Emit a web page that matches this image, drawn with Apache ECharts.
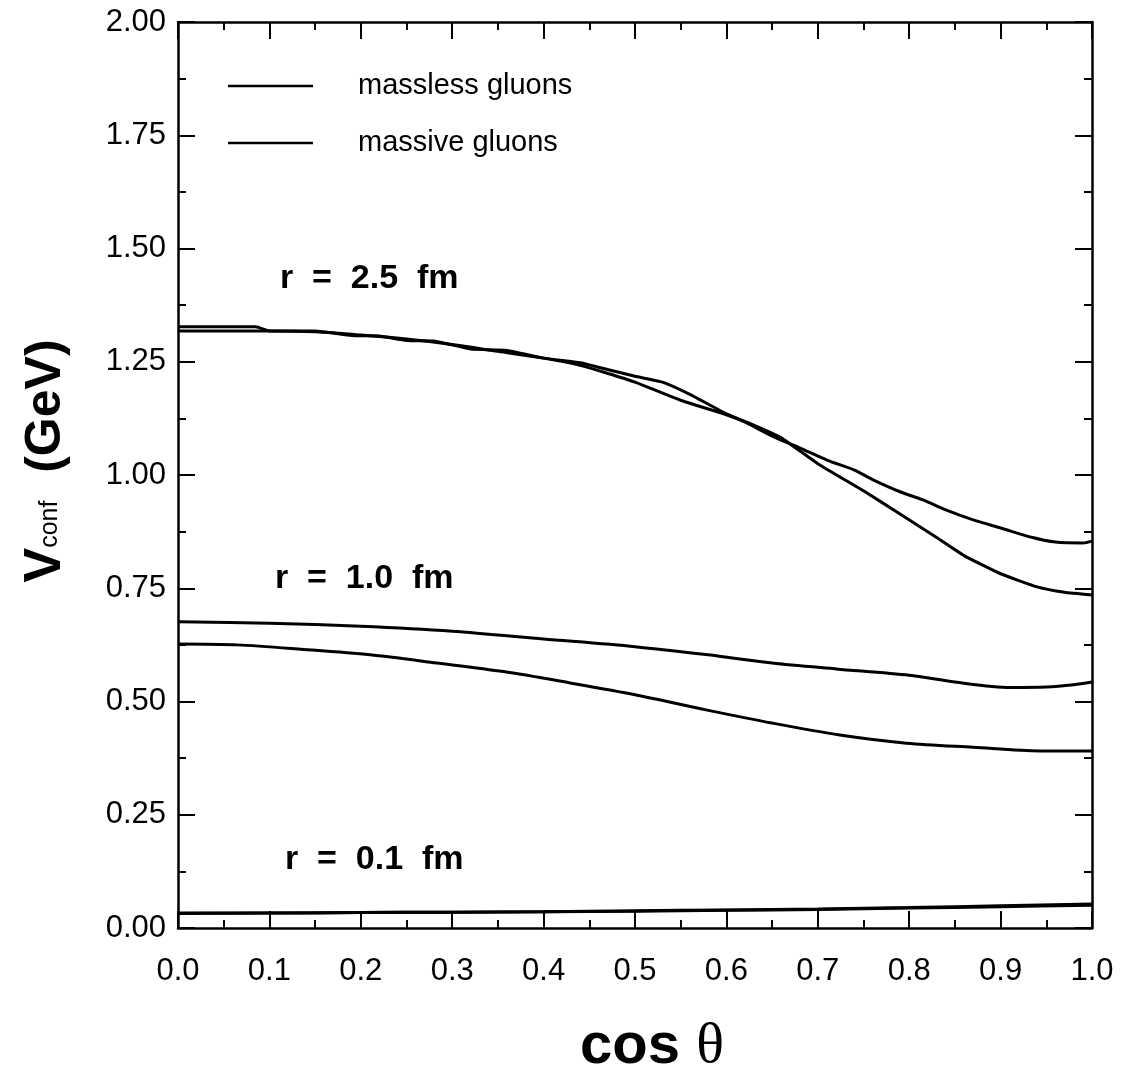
<!DOCTYPE html>
<html>
<head>
<meta charset="utf-8">
<script src="https://cdn.jsdelivr.net/npm/echarts@6/dist/echarts.min.js"></script>
<style>html,body{margin:0;padding:0;background:#fff}#c{width:1123px;height:1074px}</style>
</head>
<body>
<div id="c"></div>
<script>
// ---- data ----
const xTicks = [0,0.1,0.2,0.3,0.4,0.5,0.6,0.7,0.8,0.9,1.0];
const yTicks = [0,0.25,0.5,0.75,1.0,1.25,1.5,1.75,2.0];

const r25MasslessX = [0.00,0.085,0.10,0.15,0.19,0.22,0.25,0.28,0.32,0.36,0.40,0.44,0.46,0.50,0.53,0.56,0.60,0.63,0.66,0.70,0.75,0.79,0.83,0.86,0.90,0.94,0.97,1.00];
const r25MasslessY = [1.327,1.327,1.318,1.318,1.308,1.307,1.297,1.296,1.278,1.275,1.258,1.248,1.238,1.218,1.205,1.178,1.135,1.110,1.082,1.025,0.965,0.914,0.862,0.822,0.782,0.753,0.741,0.735];

const r25MassiveX = [0.00,0.10,0.15,0.20,0.25,0.30,0.35,0.40,0.44,0.48,0.50,0.55,0.60,0.62,0.65,0.68,0.71,0.74,0.76,0.79,0.815,0.84,0.87,0.90,0.935,0.96,0.99,1.00];
const r25MassiveY = [1.318,1.318,1.316,1.309,1.300,1.288,1.273,1.258,1.242,1.218,1.205,1.165,1.133,1.117,1.086,1.060,1.033,1.011,0.990,0.963,0.945,0.923,0.901,0.883,0.862,0.852,0.850,0.854];

const r10MasslessX = [0,0.1,0.2,0.3,0.4,0.5,0.58,0.65,0.72,0.80,0.85,0.91,0.95,0.98,1.0];
const r10MasslessY = [0.676,0.673,0.666,0.655,0.638,0.621,0.603,0.585,0.572,0.558,0.543,0.531,0.532,0.537,0.543];

const r10MassiveX = [0,0.065,0.137,0.21,0.283,0.356,0.429,0.50,0.579,0.651,0.724,0.797,0.87,0.943,1.0];
const r10MassiveY = [0.627,0.625,0.615,0.603,0.585,0.566,0.541,0.515,0.481,0.452,0.426,0.408,0.399,0.391,0.391];

const r01X = [0,0.1,0.2,0.3,0.4,0.5,0.6,0.7,0.8,0.9,1.0];
const r01MasslessY = [0.033,0.033,0.034,0.035,0.036,0.037,0.039,0.041,0.044,0.047,0.050];
const r01MassiveY  = [0.032,0.033,0.034,0.035,0.036,0.038,0.040,0.042,0.045,0.049,0.053];

const legendNames = ['massless gluons','massive gluons'];
const annotations = ['r  =  2.5  fm','r  =  1.0  fm','r  =  0.1  fm'];

// ---- chart ----
const zip = (xs, ys) => xs.map((x,i)=>[x, ys[i]]);
const F = 'Liberation Sans, Arial, Helvetica, sans-serif';

function line(name, xs, ys, smooth){
  return {name, type:'line', data: zip(xs, ys), showSymbol:false, symbol:'none',
    smooth: smooth, lineStyle:{color:'#000', width:3}, itemStyle:{color:'#000'}, z:3, animation:false};
}

const axisCommon = {
  min:0, axisLine:{show:true, onZero:false, lineStyle:{color:'#000', width:2.5}},
  axisTick:{show:true, inside:true, length:17, lineStyle:{color:'#000', width:2}},
  minorTick:{show:true, splitNumber:2, length:8, lineStyle:{color:'#000', width:2}},
  splitLine:{show:false}, minorSplitLine:{show:false}
};

const chart = echarts.init(document.getElementById('c'), null, {renderer:'canvas'});
chart.setOption({
  backgroundColor:'#fff',
  animation:false,
  grid:{left:178, top:22, right:31, bottom:146, containLabel:false, outerBoundsMode:'none'},
  legend:{
    data: legendNames, left:223, top:66, orient:'vertical', itemGap:27,
    icon:'rect', itemWidth:85, itemHeight:2.5,
    textStyle:{fontFamily:F, fontSize:29, color:'#000', lineHeight:30, padding:[0,0,0,40]},
    selectedMode:false
  },
  xAxis:[
    Object.assign({}, axisCommon, {type:'value', max:1, interval:0.1, position:'bottom',
      axisLabel:{show:true, margin:28, fontFamily:F, fontSize:31, color:'#000', formatter:v=>v.toFixed(1)},
      name:'{a|cos }{b|θ}', nameLocation:'middle', nameGap:90,
      nameTextStyle:{padding:[0,0,0,34], rich:{a:{fontFamily:F, fontWeight:'bold', fontSize:58, color:'#000'},
                           b:{fontFamily:'Liberation Serif, DejaVu Serif, serif', fontSize:58, color:'#000'}}}}),
    Object.assign({}, axisCommon, {type:'value', max:1, interval:0.1, position:'top',
      axisLabel:{show:false}})
  ],
  yAxis:[
    Object.assign({}, axisCommon, {type:'value', max:2, interval:0.25, position:'left',
      axisLabel:{show:true, margin:12, fontFamily:F, fontSize:31, color:'#000', formatter:v=>v.toFixed(2)},
      name:'{v|V}{s|conf}{g|  (GeV)}', nameLocation:'middle', nameGap:106, nameRotate:90,
      nameTextStyle:{padding:[0,0,0,28], rich:{v:{fontFamily:F, fontWeight:'bold', fontSize:52, color:'#000'},
                           s:{fontFamily:F, fontSize:25, color:'#000', padding:[8,0,0,0]},
                           g:{fontFamily:F, fontWeight:'bold', fontSize:50, color:'#000'}}}}),
    Object.assign({}, axisCommon, {type:'value', max:2, interval:0.25, position:'right',
      axisLabel:{show:false}})
  ],
  graphic:[
    {type:'text', left:280, top:262, style:{text:annotations[0], font:'bold 34px '+F, fill:'#000'}},
    {type:'text', left:275, top:562, style:{text:annotations[1], font:'bold 34px '+F, fill:'#000'}},
    {type:'text', left:285, top:843, style:{text:annotations[2], font:'bold 34px '+F, fill:'#000'}}
  ],
  series:[
    line(legendNames[0], r25MasslessX, r25MasslessY, 0.15),
    line(legendNames[1], r25MassiveX, r25MassiveY, 0.3),
    line(legendNames[0], r10MasslessX, r10MasslessY, 0.3),
    line(legendNames[1], r10MassiveX, r10MassiveY, 0.3),
    line(legendNames[0], r01X, r01MasslessY, 0.3),
    line(legendNames[1], r01X, r01MassiveY, 0.3)
  ]
});
</script>
</body>
</html>
